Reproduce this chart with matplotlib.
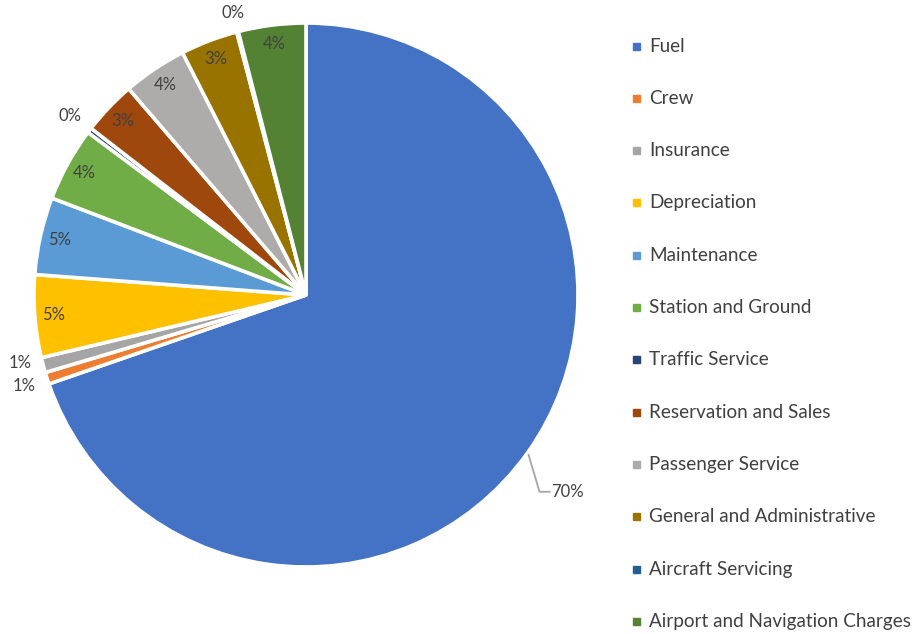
import numpy as np
import matplotlib.pyplot as plt
from matplotlib.patches import Rectangle

# Airline operating cost breakdown (% of total)
categories = ["Fuel", "Crew", "Insurance", "Depreciation", "Maintenance",
              "Station and Ground", "Traffic Service", "Reservation and Sales",
              "Passenger Service", "General and Administrative",
              "Aircraft Servicing", "Airport and Navigation Charges"]
shares = [69.7, 0.7, 0.9, 4.9, 4.6, 4.4, 0.3, 3.2, 3.8, 3.4, 0.1, 4.0]
colors = ["#4472C4", "#ED7D31", "#A5A5A5", "#FFC000", "#5B9BD5", "#70AD47",
          "#264478", "#9E480E", "#AEABAB", "#997300", "#255E91", "#548235"]

plt.rcParams['font.family'] = ['Lato', 'DejaVu Sans']
txt = "#404040"

W, H = 920, 634
fig = plt.figure(figsize=(W / 100, H / 100), dpi=100)
ax = fig.add_axes([0, 0, 1, 1])

cx, cy, R = 306, H - 295, 272
wedges, _ = ax.pie(shares, colors=colors, startangle=90, counterclock=False,
                   center=(cx, cy), radius=R, frame=True,
                   wedgeprops=dict(edgecolor="white", linewidth=2.6))
ax.set_xlim(0, W)
ax.set_ylim(0, H)
ax.axis("off")

# percentage labels: inside the slice end, or outside for thin slices
outside = {"Crew": (1.09, 0), "Insurance": (1.08, -1.5), "Traffic Service": (1.09, 0),
           "Aircraft Servicing": (1.07, 0)}
for w, name, v in zip(wedges, categories, shares):
    mid = np.deg2rad((w.theta1 + w.theta2) / 2)
    lab = f"{round(v + 1e-9):.0f}%"
    if name == "Fuel":
        ex, ey = cx + R * np.cos(mid), cy + R * np.sin(mid)
        ax.plot([ex + 1, ex + 12, ex + 22], [ey - 2, ey - 39, ey - 39],
                color="#A6A6A6", lw=1.3)
        ax.text(ex + 24, ey - 39, lab, ha="left", va="center", fontsize=12, color=txt)
    elif name in outside:
        f, da = outside[name]
        a = mid + np.deg2rad(da)
        ax.text(cx + f * R * np.cos(a), cy + f * R * np.sin(a), lab,
                ha="center", va="center", fontsize=12, color=txt)
    else:
        ax.text(cx + 0.93 * R * np.cos(mid), cy + 0.93 * R * np.sin(mid), lab,
                ha="center", va="center", fontsize=12, color=txt)

# legend column on the right
for i, (name, c) in enumerate(zip(categories, colors)):
    y = H - (46 + i * 52.3)
    ax.add_patch(Rectangle((633, y - 3.5), 7, 7, color=c))
    ax.text(649, y, name, ha="left", va="center", fontsize=13.6, color=txt)

fig.savefig("out.png", dpi=100)
